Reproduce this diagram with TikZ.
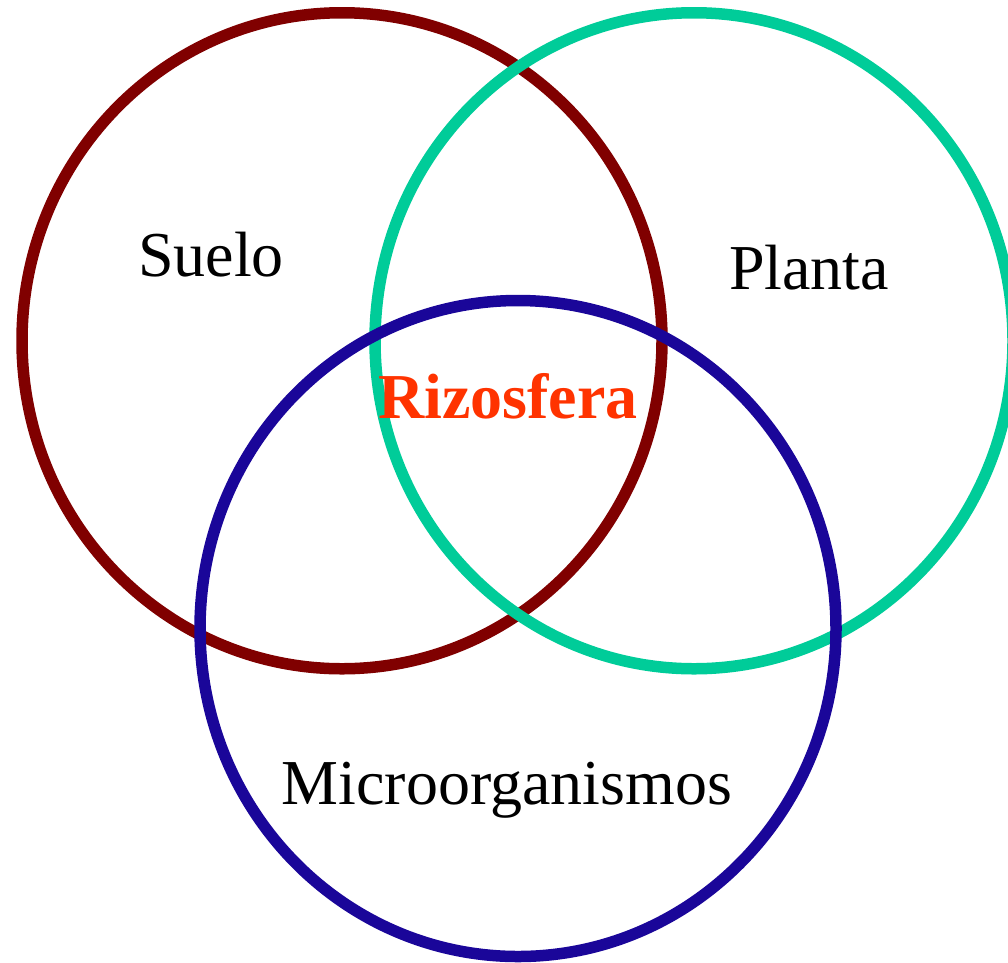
\documentclass[tikz,border=0pt]{standalone}
\usepackage{fontspec}
\setmainfont{Liberation Serif}
\usepackage{tikz}
\usetikzlibrary{positioning}
\definecolor{suelocol}{HTML}{800000}
\definecolor{plantacol}{HTML}{00CC99}
\definecolor{microcol}{HTML}{1A0699}
\definecolor{rizocol}{HTML}{FF3300}
\tikzset{x=1pt, y=-1pt, font=\fontsize{64}{64}\selectfont}
\tikzstyle{ring} = [line width=11.5pt]
\tikzstyle{setname} = [anchor=base, inner sep=0pt, outer sep=0pt]

\begin{document}
\begin{tikzpicture}
		\useasboundingbox (0,0) rectangle (1008,962);
		\clip (0,0) rectangle (1008,962);

		\coordinate (suelo) at (342,340.75);
		\coordinate (planta) at (694,340.75);
		\coordinate (micro) at (518,628.5);

		\draw [ring, draw=suelocol] (suelo) ellipse [x radius=320pt, y radius=328pt];
		\draw [ring, draw=plantacol] (planta) ellipse [x radius=319pt, y radius=328pt];
		\draw [ring, draw=microcol] (micro) ellipse [x radius=318pt, y radius=328pt];

		\node [setname] (t_suelo) at (211,276) {Suelo};
		\node [setname] (t_planta) at (809,289) {Planta};
		\node [setname, text=rizocol, font=\fontsize{64}{64}\selectfont\bfseries] (t_rizo) at (508,418) {Rizosfera};
		\node [setname] (t_micro) at (507,804) {Microorganismos};
	\end{tikzpicture}
\end{document}
